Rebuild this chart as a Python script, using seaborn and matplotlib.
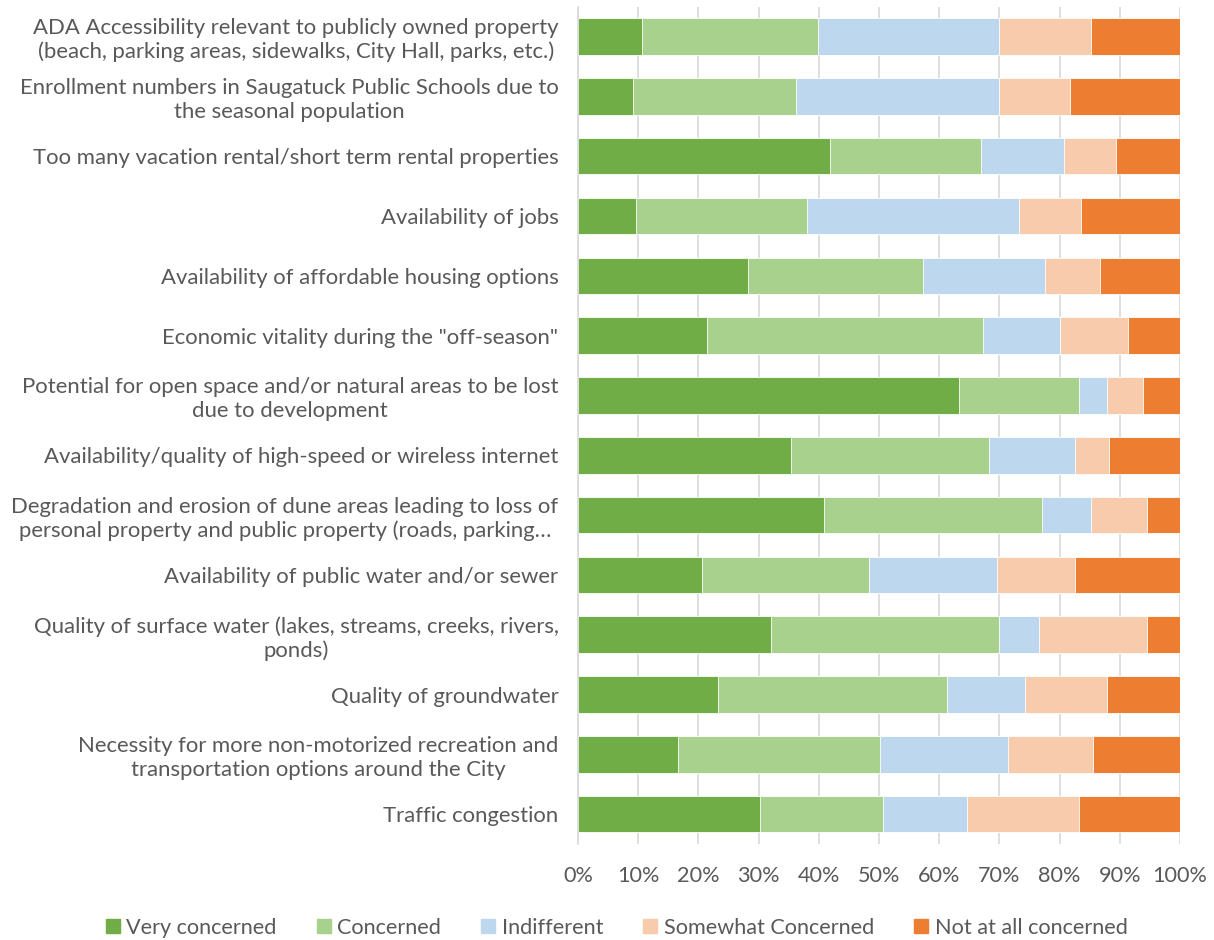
"""Stacked horizontal bars: level of concern per community issue."""
import pandas as pd
import matplotlib
matplotlib.use('Agg')
import matplotlib.pyplot as plt
import matplotlib.patches as mpatches
import seaborn as sns

issues = [
    "ADA Accessibility relevant to publicly owned property\n(beach, parking areas, sidewalks, City Hall, parks, etc.)",
    "Enrollment numbers in Saugatuck Public Schools due to\nthe seasonal population",
    "Too many vacation rental/short term rental properties",
    "Availability of jobs",
    "Availability of affordable housing options",
    'Economic vitality during the "off-season"',
    "Potential for open space and/or natural areas to be lost\ndue to development",
    "Availability/quality of high-speed or wireless internet",
    "Degradation and erosion of dune areas leading to loss of\npersonal property and public property (roads, parking…",
    "Availability of public water and/or sewer",
    "Quality of surface water (lakes, streams, creeks, rivers,\nponds)",
    "Quality of groundwater",
    "Necessity for more non-motorized recreation and\ntransportation options around the City",
    "Traffic congestion",
]

very_concerned = [10.6, 9.1, 41.8, 9.7, 28.2, 21.4, 63.3, 35.4, 40.8, 20.6, 32.0, 23.2, 16.6, 30.3]
concerned = [29.2, 27.2, 25.1, 28.3, 29.2, 45.8, 19.9, 32.8, 36.2, 27.8, 37.9, 38.1, 33.6, 20.4]
indifferent = [30.1, 33.6, 13.8, 35.2, 20.1, 12.9, 4.6, 14.4, 8.3, 21.2, 6.6, 13.0, 21.3, 13.9]
somewhat = [15.4, 11.8, 8.6, 10.4, 9.2, 11.3, 6.1, 5.6, 9.2, 13.0, 18.0, 13.5, 14.1, 18.6]
not_at_all = [14.7, 18.3, 10.7, 16.4, 13.3, 8.6, 6.1, 11.8, 5.5, 17.4, 5.5, 12.2, 14.4, 16.8]

series = ["Very concerned", "Concerned", "Indifferent", "Somewhat Concerned", "Not at all concerned"]
colors = ["#70AD47", "#A9D18E", "#BDD7EE", "#F8CBAD", "#ED7D31"]

df = pd.DataFrame({
    "Very concerned": very_concerned,
    "Concerned": concerned,
    "Indifferent": indifferent,
    "Somewhat Concerned": somewhat,
    "Not at all concerned": not_at_all,
}, index=issues)

# cumulative sums so that each series ends where the next starts
cum = df[series].cumsum(axis=1)
cum["Issue"] = issues

sns.set_style("white")
plt.rcParams['font.family'] = ['Lato', 'DejaVu Sans']
text_color = "#595959"
fsize = 15.6

fig = plt.figure(figsize=(12.14, 9.40), dpi=100)
ax = fig.add_axes([0.476, 0.102, 0.496, 0.891])

# draw from the right-most series down so each shorter bar sits on top
for name, col in zip(reversed(series), reversed(colors)):
    sns.barplot(data=cum, x=name, y="Issue", color=col, width=0.61,
                orient="h", ax=ax, edgecolor="white", linewidth=0.6,
                saturation=1)

ax.set_xlim(0, 100)
ax.set_xticks(range(0, 101, 10))
ax.set_xticklabels([f"{v}%" for v in range(0, 101, 10)])
ax.set_xlabel("")
ax.set_ylabel("")
ax.set_axisbelow(True)
ax.grid(axis="x", color="#D9D9D9", linewidth=1.2)
for s in ["top", "right", "bottom"]:
    ax.spines[s].set_visible(False)
ax.spines["left"].set_color("#D9D9D9")
ax.spines["left"].set_linewidth(1.2)
ax.tick_params(axis="x", length=0, pad=16, labelsize=fsize, labelcolor=text_color)
ax.tick_params(axis="y", length=0, pad=14, labelsize=fsize + 0.3, labelcolor=text_color)
for lab in ax.get_yticklabels():
    lab.set_multialignment("center")

handles = [mpatches.Patch(color=c, label=n) for n, c in zip(series, colors)]
fig.legend(handles=handles, loc="center", bbox_to_anchor=(0.508, 0.013),
           ncol=5, frameon=False, fontsize=fsize, labelcolor=text_color,
           handlelength=0.65, handleheight=0.65, handletextpad=0.3,
           columnspacing=1.85)

plt.savefig("out.png", dpi=100)
